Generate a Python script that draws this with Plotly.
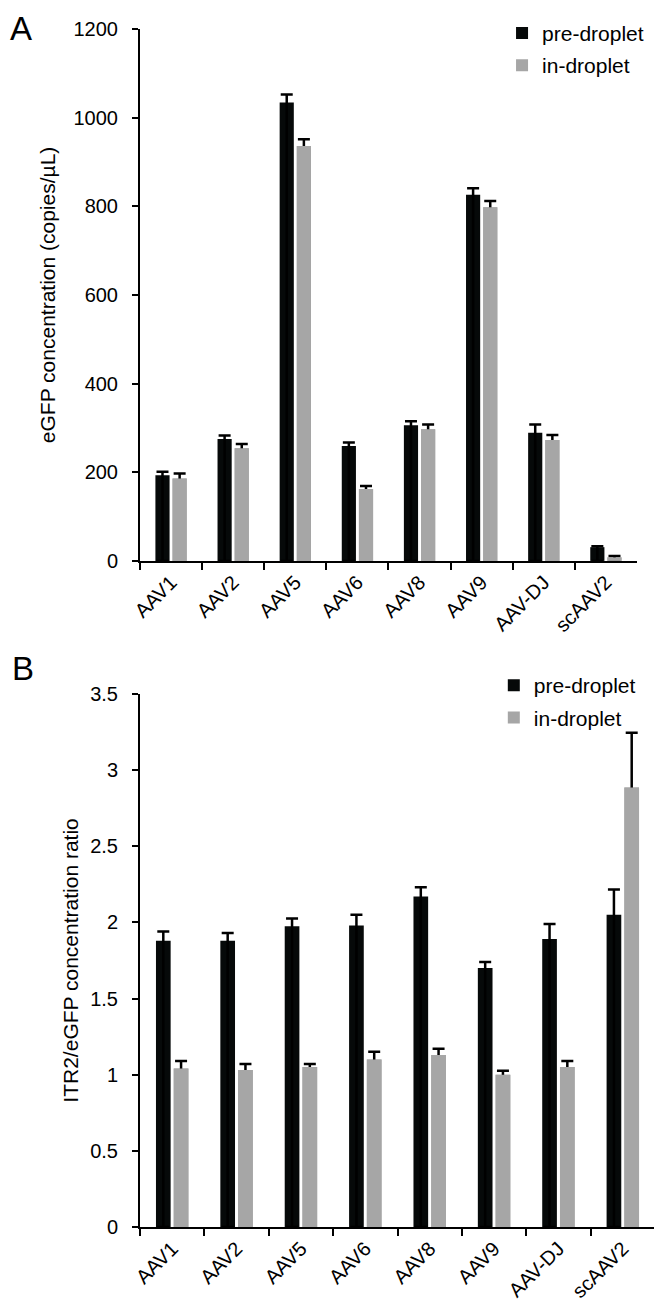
import plotly.graph_objects as go

# ---------------- data ----------------
categories = ["AAV1", "AAV2", "AAV5", "AAV6", "AAV8", "AAV9", "AAV-DJ", "scAAV2"]

# Panel A: eGFP concentration (copies/µL)
conc_pre = [193, 275, 1034, 259, 306, 826, 289, 31]
conc_pre_err = [8, 8, 18, 8, 9, 15, 19, 2]
conc_in = [186, 254, 936, 162, 297, 798, 273, 8]
conc_in_err = [11, 10, 15, 7, 11, 14, 11, 3]

# Panel B: ITR2/eGFP concentration ratio
ratio_pre = [1.88, 1.88, 1.975, 1.98, 2.17, 1.70, 1.89, 2.05]
ratio_pre_err = [0.06, 0.05, 0.05, 0.07, 0.06, 0.04, 0.10, 0.165]
ratio_in = [1.04, 1.03, 1.05, 1.10, 1.13, 1.00, 1.05, 2.885]
ratio_in_err = [0.05, 0.04, 0.02, 0.05, 0.04, 0.025, 0.04, 0.36]

series_names = ["pre-droplet", "in-droplet"]

# ---------------- style ----------------
FONT = "Liberation Sans, Arial, Helvetica, sans-serif"
BLACK = "#060909"
GRAY = "#a6a6a6"
BAR_W = 0.228
OFF_PRE = -0.252
OFF_IN = 0.024

fig = go.Figure()


def err(arr, base):
    return dict(type="data", symmetric=False, array=arr, arrayminus=base,
                color="black", thickness=2.5, width=6)


def add_panel(pre, pre_err, inn, inn_err, xa, ya, leg):
    fig.add_trace(go.Bar(
        x=categories, y=pre, name=series_names[0], marker_color=BLACK,
        marker_line_width=0, width=BAR_W, offset=OFF_PRE,
        error_y=err(pre_err, pre), xaxis=xa, yaxis=ya, legend=leg,
        legendgroup=leg + "a", showlegend=True, hoverinfo="skip"))
    fig.add_trace(go.Bar(
        x=categories, y=inn, name=series_names[1], marker_color=GRAY,
        marker_line_width=0, width=BAR_W, offset=OFF_IN,
        error_y=err(inn_err, inn), xaxis=xa, yaxis=ya, legend=leg,
        legendgroup=leg + "b", showlegend=False, hoverinfo="skip"))
    fig.add_trace(go.Bar(
        x=categories, y=inn, name=series_names[1], marker_color=GRAY,
        marker_line_width=0, width=BAR_W, offset=OFF_IN,
        xaxis=xa, yaxis=ya, legend=leg,
        legendgroup=leg + "b", showlegend=True))


add_panel(conc_pre, conc_pre_err, conc_in, conc_in_err, "x", "y", "legend")
add_panel(ratio_pre, ratio_pre_err, ratio_in, ratio_in_err, "x2", "y2", "legend2")

xcommon = dict(showline=True, linecolor="black", linewidth=2, ticks="outside",
               ticklen=7, tickwidth=2, tickcolor="black", tickson="boundaries",
               tickangle=-45, showgrid=False, automargin=False,
               tickfont=dict(size=20, family=FONT, color="black"),
               categoryorder="array", categoryarray=categories)
ycommon = dict(showline=True, linecolor="black", linewidth=2, ticks="outside",
               ticklen=6, tickwidth=2, tickcolor="black", showgrid=False,
               zeroline=False, automargin=False, ticklabelstandoff=10,
               tickfont=dict(size=20, family=FONT, color="black"))

# the page body has an 8px margin, so the figure is 8px smaller each way
fig.update_layout(
    width=654, height=1296, barmode="overlay",
    margin=dict(l=132, r=7, t=21, b=77, autoexpand=False),
    plot_bgcolor="white", paper_bgcolor="white",
    font=dict(family=FONT, size=20, color="black"),
    xaxis=dict(domain=[0, 0.965], anchor="y", **xcommon),
    yaxis=dict(domain=[0.556, 1], anchor="x", range=[0, 1200], dtick=200,
               title=dict(text="eGFP concentration (copies/µL)",
                          font=dict(size=21, family=FONT), standoff=12),
               **ycommon),
    xaxis2=dict(domain=[0, 1], anchor="y2", **xcommon),
    yaxis2=dict(domain=[0, 0.445], anchor="x2", range=[0, 3.5], dtick=0.5,
                title=dict(text="ITR2/eGFP concentration ratio",
                           font=dict(size=21, family=FONT), standoff=6),
                **ycommon),
    legend=dict(x=0.703, y=1.0135, xanchor="left", yanchor="top",
                font=dict(size=21, family=FONT), bgcolor="rgba(0,0,0,0)",
                traceorder="grouped", tracegroupgap=2),
    legend2=dict(x=0.687, y=0.469, xanchor="left", yanchor="top",
                 font=dict(size=21, family=FONT), bgcolor="rgba(0,0,0,0)",
                 traceorder="grouped", tracegroupgap=2),
    annotations=[
        dict(text="A", xref="paper", yref="paper", x=-0.2565, y=1.0175,
             xanchor="left", yanchor="top", showarrow=False,
             font=dict(size=33, family=FONT)),
        dict(text="B", xref="paper", yref="paper", x=-0.252, y=0.4666,
             xanchor="left", yanchor="middle", showarrow=False,
             font=dict(size=33, family=FONT)),
    ],
)

fig.write_html("out.html")
